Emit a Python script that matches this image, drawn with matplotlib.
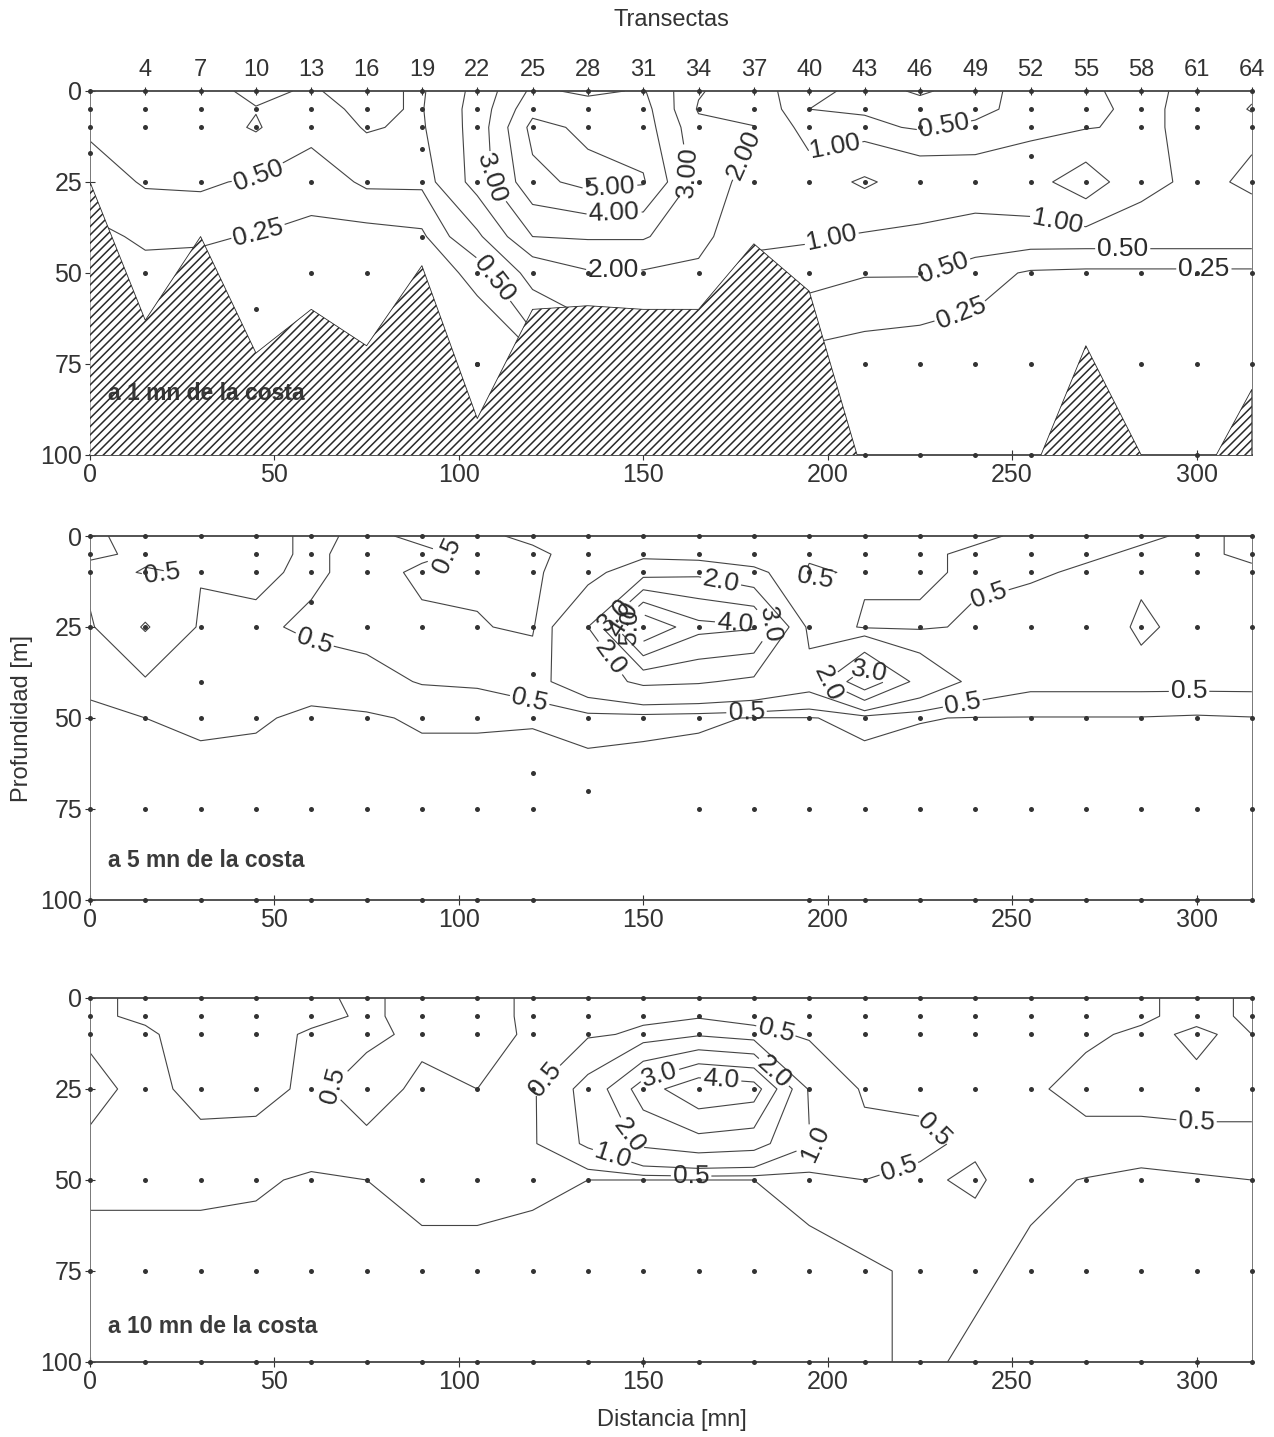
import matplotlib.pyplot as plt
import numpy as np

plt.rcParams['font.family'] = ['Liberation Sans', 'DejaVu Sans']
plt.rcParams['hatch.linewidth'] = 1.1

# stations along the coast (mn) and transect numbers on the top axis
distance = np.arange(0, 316, 15)
transects = [str(n) for n in range(4, 65, 3)]

# depth rows of the value grids and the standard sampled depths
depth = [0, 5, 10, 25, 40, 50, 75, 100]
sample_depths = [0, 5, 10, 25, 50, 75, 100]

# sea floor at 1 mn from the coast (m)
bottom_1mn = [25, 63, 40, 72, 60, 70, 48, 90, 60, 59, 60, 60, 42, 55, 107, 125, 125, 107, 70, 100, 110, 82]

# samples off the standard depths, and standard ones that were not taken
extra_1mn = [(0, 17), (90, 16), (90, 40), (45, 60), (105, 75), (255, 18)]
skip_1mn = [(45, 25), (45, 50)]
extra_5mn = [(30, 40), (60, 18), (120, 38), (120, 65), (135, 70)]
skip_5mn = [(135, 100), (150, 100), (165, 100), (180, 100), (135, 75), (150, 75), (30, 5), (60, 25)]
extra_10mn = []
skip_10mn = []

# values on the grid, one row per depth in `depth`
chl_1mn = [
    [0.8, 0.8, 0.85, 1.1, 0.95, 1.2, 0.9, 2.3, 4.2, 3.8, 4.1, 2.1, 1.3, 0.6, 0.4, 0.2, 0.4, 0.6, 0.9, 1.2, 0.8, 0.95],
    [0.7, 0.75, 0.8, 0.98, 0.85, 1.1, 0.95, 2.4, 4.7, 4.5, 4.4, 1.9, 1.5, 0.5, 0.45, 0.4, 0.35, 0.7, 0.85, 1.15, 0.8, 1.02],
    [0.55, 0.8, 0.75, 1.05, 0.6, 1.05, 0.9, 2.4, 5.3, 4.8, 4.5, 2.3, 2.05, 0.6, 0.6, 0.45, 0.6, 0.8, 0.95, 1.15, 0.8, 0.9],
    [0.35, 0.53, 0.55, 0.45, 0.33, 0.55, 0.55, 2.4, 4.7, 5.3, 5.1, 2.6, 1.6, 1.5, 2.15, 1.5, 1.4, 1.6, 2.6, 1.2, 0.85, 1.1],
    [0.2, 0.28, 0.27, 0.24, 0.2, 0.15, 0.2, 0.8, 3.0, 3.1, 3.1, 2.3, 1.2, 1.1, 0.9, 0.85, 0.7, 0.65, 0.65, 0.65, 0.65, 0.65],
    [0.15, 0.2, 0.2, 0.2, 0.2, 0.15, 0.15, 0.3, 1.2, 1.9, 1.9, 1.8, 0.7, 0.6, 0.52, 0.52, 0.35, 0.22, 0.2, 0.2, 0.2, 0.2],
    [0.1, 0.1, 0.1, 0.1, 0.1, 0.1, 0.1, 0.1, 0.1, 0.1, 0.2, 0.3, 0.2, 0.15, 0.1, 0.05, 0.1, 0.1, 0.1, 0.1, 0.1, 0.1],
    [0.1] * 22,
]

chl_5mn = [
    [0.45, 0.6, 0.6, 0.6, 0.45, 0.55, 0.45, 0.45, 0.55, 0.6, 0.6, 0.55, 0.55, 0.6, 0.55, 0.55, 0.55, 0.45, 0.45, 0.45, 0.55, 0.45],
    [0.45, 0.55, 0.6, 0.6, 0.45, 0.6, 0.55, 0.45, 0.45, 0.6, 0.8, 0.6, 0.55, 0.55, 0.55, 0.55, 0.45, 0.45, 0.45, 0.55, 0.55, 0.45],
    [0.6, 0.48, 0.52, 0.55, 0.45, 0.6, 0.45, 0.45, 0.45, 0.7, 1.6, 1.8, 1.2, 0.45, 0.55, 0.55, 0.45, 0.45, 0.55, 0.55, 0.55, 0.55],
    [0.45, 1.05, 0.45, 0.45, 0.55, 0.6, 0.55, 0.52, 0.45, 2.0, 6.0, 4.3, 4.1, 0.8, 0.45, 0.45, 0.55, 0.7, 0.7, 0.45, 0.6, 0.6],
    [0.3, 0.45, 0.4, 0.4, 0.35, 0.4, 0.52, 0.55, 0.75, 1.5, 2.2, 2.1, 1.8, 1.3, 3.8, 1.6, 0.8, 0.6, 0.6, 0.6, 0.6, 0.6],
    [0.2, 0.25, 0.3, 0.28, 0.2, 0.22, 0.28, 0.28, 0.27, 0.35, 0.32, 0.28, 0.24, 0.24, 0.3, 0.26, 0.24, 0.24, 0.24, 0.24, 0.22, 0.24],
    [0.1, 0.1, 0.1, 0.1, 0.1, 0.1, 0.1, 0.1, 0.1, 0.05, 0.05, 0.1, 0.1, 0.1, 0.1, 0.1, 0.1, 0.1, 0.1, 0.1, 0.1, 0.1],
    [0.1] * 22,
]

chl_10mn = [
    [0.45, 0.55, 0.65, 0.65, 0.55, 0.45, 0.6, 0.6, 0.45, 0.45, 0.45, 0.45, 0.45, 0.45, 0.45, 0.45, 0.45, 0.45, 0.45, 0.45, 0.6, 0.45],
    [0.45, 0.55, 0.65, 0.65, 0.6, 0.45, 0.6, 0.6, 0.45, 0.45, 0.45, 0.45, 0.4, 0.45, 0.45, 0.45, 0.45, 0.45, 0.45, 0.45, 0.6, 0.45],
    [0.45, 0.45, 0.65, 0.65, 0.45, 0.45, 0.55, 0.55, 0.48, 0.45, 0.55, 0.9, 0.6, 0.45, 0.45, 0.45, 0.45, 0.45, 0.45, 0.55, 1.3, 0.5],
    [0.6, 0.4, 0.6, 0.58, 0.45, 0.6, 0.45, 0.5, 0.45, 1.2, 3.5, 4.8, 4.5, 0.9, 0.45, 0.45, 0.45, 0.45, 0.6, 0.65, 0.65, 0.65],
    [0.45, 0.45, 0.42, 0.42, 0.35, 0.45, 0.45, 0.45, 0.45, 1.1, 2.2, 2.6, 2.4, 1.05, 0.6, 0.55, 0.45, 0.45, 0.4, 0.35, 0.4, 0.4],
    [0.3, 0.3, 0.3, 0.28, 0.22, 0.25, 0.32, 0.32, 0.3, 0.25, 0.25, 0.25, 0.25, 0.35, 0.5, 0.45, 0.55, 0.3, 0.24, 0.2, 0.22, 0.25],
    [0.15, 0.15, 0.15, 0.15, 0.15, 0.15, 0.18, 0.18, 0.15, 0.15, 0.15, 0.15, 0.15, 0.15, 0.2, 0.3, 0.3, 0.2, 0.15, 0.15, 0.15, 0.15],
    [0.1, 0.1, 0.1, 0.1, 0.1, 0.1, 0.1, 0.1, 0.1, 0.1, 0.1, 0.1, 0.1, 0.1, 0.2, 0.3, 0.2, 0.1, 0.1, 0.1, 0.1, 0.1],
]

levels_1mn = [0.25, 0.5, 1, 2, 3, 4, 5]
levels_5mn = [0.25, 0.5, 1, 2, 3, 4, 5]
levels_10mn = [0.25, 0.5, 1, 2, 3, 4]

# where the contour labels sit (distance, depth), per level
labels_1mn = {0.25: [(45, 37), (235, 57), (302, 49)],
              0.5: [(45, 22), (232, 12), (232, 50), (280, 43), (113, 49)],
              1: [(202, 15), (262, 37), (202, 44)],
              2: [(142, 50), (172, 15)],
              3: [(110, 24), (157, 23)],
              4: [(142, 31)],
              5: [(141, 27)]}
labels_5mn = {0.5: [(20, 17), (61, 28), (99, 12), (197, 13), (244, 17), (119, 46), (178, 48), (237, 48), (298, 45)],
              2: [(171, 13), (135, 38), (199, 43)],
              3: [(138, 17), (185, 24), (214, 33)],
              4: [(141, 19), (175, 23)],
              5: [(143, 22)]}
labels_10mn = {0.5: [(62, 20), (128, 27), (185, 13), (163, 48), (229, 36), (219, 46), (300, 36)],
               1: [(142, 42), (201, 40)],
               2: [(148, 37), (184, 22)],
               3: [(155, 23)],
               4: [(171, 24)]}

line_col = '#444444'
text_col = '#2b2b2b'

fig = plt.figure(figsize=(12.74, 14.37), dpi=100)
left, width, height = 0.0706, 0.912, 0.2533
ax1 = fig.add_axes([left, 0.6834, width, height])
ax2 = fig.add_axes([left, 0.3737, width, height])
ax3 = fig.add_axes([left, 0.0522, width, height])

X, Y = np.meshgrid(distance, depth)


def draw_panel(ax, values, levels, label_pos, fmt, title, title_y, extra, skip, floor=None):
    ax.set_xlim(0, 315)
    ax.set_ylim(100, 0)
    Z = np.array(values)
    for lev in levels:
        cs = ax.contour(X, Y, Z, levels=[lev], colors=line_col, linewidths=0.8, zorder=2)
        if lev in label_pos:
            ax.clabel(cs, manual=label_pos[lev], fmt=fmt, fontsize=19, inline=True,
                      inline_spacing=2, colors=text_col)

    if floor is None:
        floor = [200] * len(distance)
    else:
        # white sea floor, the title, then the hatching drawn over both
        ax.fill_between(distance, floor, 140, facecolor='white', linewidth=0, zorder=3)
        ax.fill_between(distance, floor, 140, facecolor='none', edgecolor='#2a2a2a',
                        hatch='////', linewidth=0.6, zorder=4)

    pts = [(x, d) for x, b in zip(distance, floor) for d in sample_depths
           if d < b - 2 and (x, d) not in skip] + extra
    ax.scatter([p[0] for p in pts], [p[1] for p in pts], s=13, color='#333333',
               zorder=5, clip_on=False, linewidths=0)

    ax.text(5, title_y, title, fontsize=16.5, fontweight='bold', color='#3a3a3a', zorder=3.5)

    ax.set_xticks([0, 50, 100, 150, 200, 250, 300])
    ax.set_yticks([0, 25, 50, 75, 100])
    ax.tick_params(direction='inout', length=7, width=0.8, labelsize=18,
                   colors='#333333', pad=2)
    for side in ['left', 'right']:
        ax.spines[side].set_linewidth(0.7)
        ax.spines[side].set_color('#777777')
    for side in ['top', 'bottom']:
        ax.spines[side].set_linewidth(1.3)
        ax.spines[side].set_color('#444444')


draw_panel(ax1, chl_1mn, levels_1mn, labels_1mn, '%.2f', 'a 1 mn de la costa', 85,
           extra_1mn, skip_1mn, floor=bottom_1mn)
draw_panel(ax2, chl_5mn, levels_5mn, labels_5mn, '%.1f', 'a 5 mn de la costa', 91,
           extra_5mn, skip_5mn)
draw_panel(ax3, chl_10mn, levels_10mn, labels_10mn, '%.1f', 'a 10 mn de la costa', 92,
           extra_10mn, skip_10mn)

top = ax1.secondary_xaxis('top')
top.set_xticks(distance[1:], labels=transects)
top.tick_params(direction='inout', length=6, width=0.8, labelsize=17, colors='#333333', pad=4)
top.spines['top'].set_visible(False)

fig.text(0.527, 0.986, 'Transectas', ha='center', va='center', fontsize=17, color='#333333')
fig.text(0.017, 0.5, 'Profundidad [m]', ha='center', va='center', rotation=90,
         fontsize=17, color='#333333')
fig.text(0.527, 0.012, 'Distancia [mn]', ha='center', va='center', fontsize=17, color='#333333')

fig.savefig('out.png', dpi=100)
